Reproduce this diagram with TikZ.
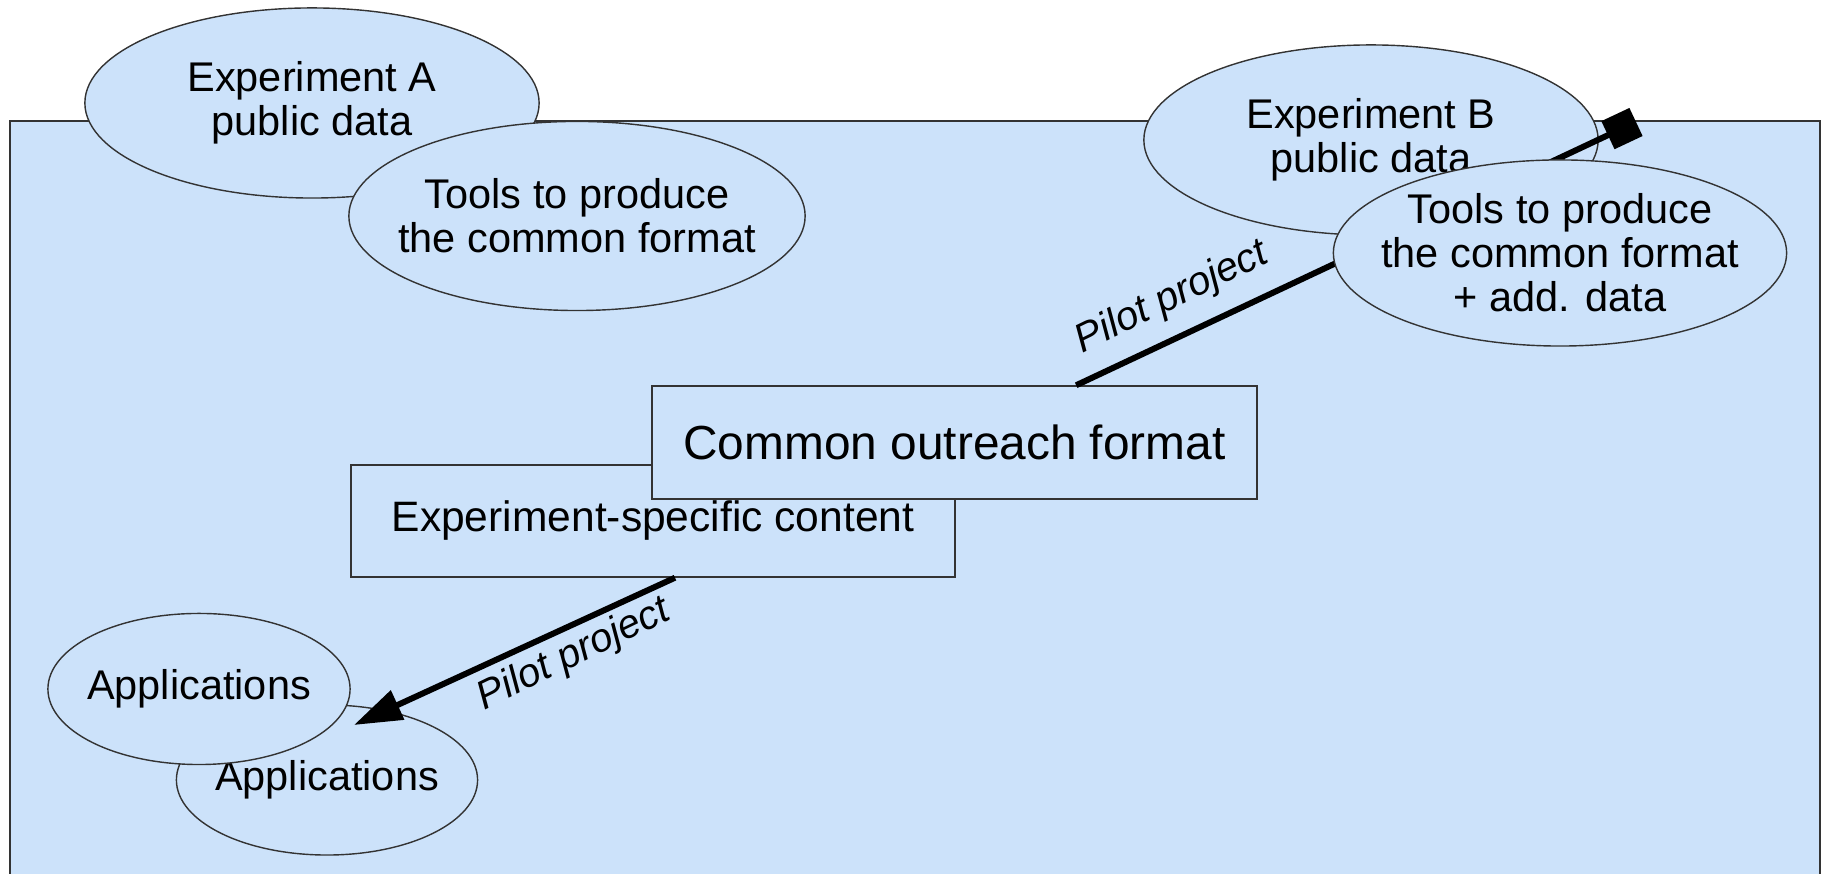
\documentclass[tikz,border=0pt]{standalone}
\usepackage{fontspec}
\setmainfont{Liberation Sans}
\usetikzlibrary{arrows.meta,shapes.geometric}
\definecolor{sky}{HTML}{CCE2FA}
\definecolor{rim}{HTML}{333333}
\tikzset{blob/.style={ellipse,draw=rim,fill=sky,inner xsep=-1cm,inner ysep=-0.4cm,align=center,font=\fontsize{11.8}{12.5}\selectfont},
  panel/.style={rectangle,draw=rim,fill=sky,inner sep=0pt,align=center},
  pilot/.style={line width=1.7pt,black},
  tag/.style={font=\fontsize{11.4}{14}\selectfont\itshape,rotate=26}}

\begin{document}
\begin{tikzpicture}[x=0.01cm,y=-0.01cm]
\useasboundingbox (0,0) rectangle (1826,874);
\fill[sky] (10,121) rectangle (1820,874);
\draw[rim] (10,874)--(10,121)--(1820,121)--(1820,874);
\node[blob,minimum width=4.54cm,minimum height=1.9cm] (expA) at (312,103) {Experiment A\\public data};
\node[blob,minimum width=4.56cm,minimum height=1.89cm] (toolsA) at (577,216) {Tools to produce\\the common format};
\node[blob,minimum width=4.54cm,minimum height=1.9cm] (expB) at (1371,140) {Experiment B\\public data};
\node[panel,minimum width=6.04cm,minimum height=1.12cm,font=\fontsize{12.1}{14}\selectfont] (specific) at (653,521) {Experiment-specific content};
\node[panel,minimum width=6.05cm,minimum height=1.13cm,font=\fontsize{13.6}{16}\selectfont] (common) at (954.5,442.5) {Common outreach format};
\coordinate (expTip) at (1636,122); \coordinate (appsTip) at (354,725);
\draw[pilot,-{Square[length=0.31cm,width=0.31cm]}] (common) -- (expTip);
\node[blob,minimum width=4.53cm,minimum height=1.86cm] (toolsB) at (1560,253) {Tools to produce\\the common format\\+ add. data};
\node[blob,minimum width=3.01cm,minimum height=1.5cm] (appsB) at (327,780) {Applications};
\node[blob,minimum width=3.02cm,minimum height=1.51cm] (appsA) at (199,689) {Applications};
\draw[pilot,-{Triangle[length=0.48cm,width=0.31cm]}] ([xshift=0.22cm]specific.south) -- (appsTip);
\node[tag] (tagB) at (1172,298) {Pilot project};
\node[tag] (tagA) at (574,655) {Pilot project};
\end{tikzpicture}
\end{document}
